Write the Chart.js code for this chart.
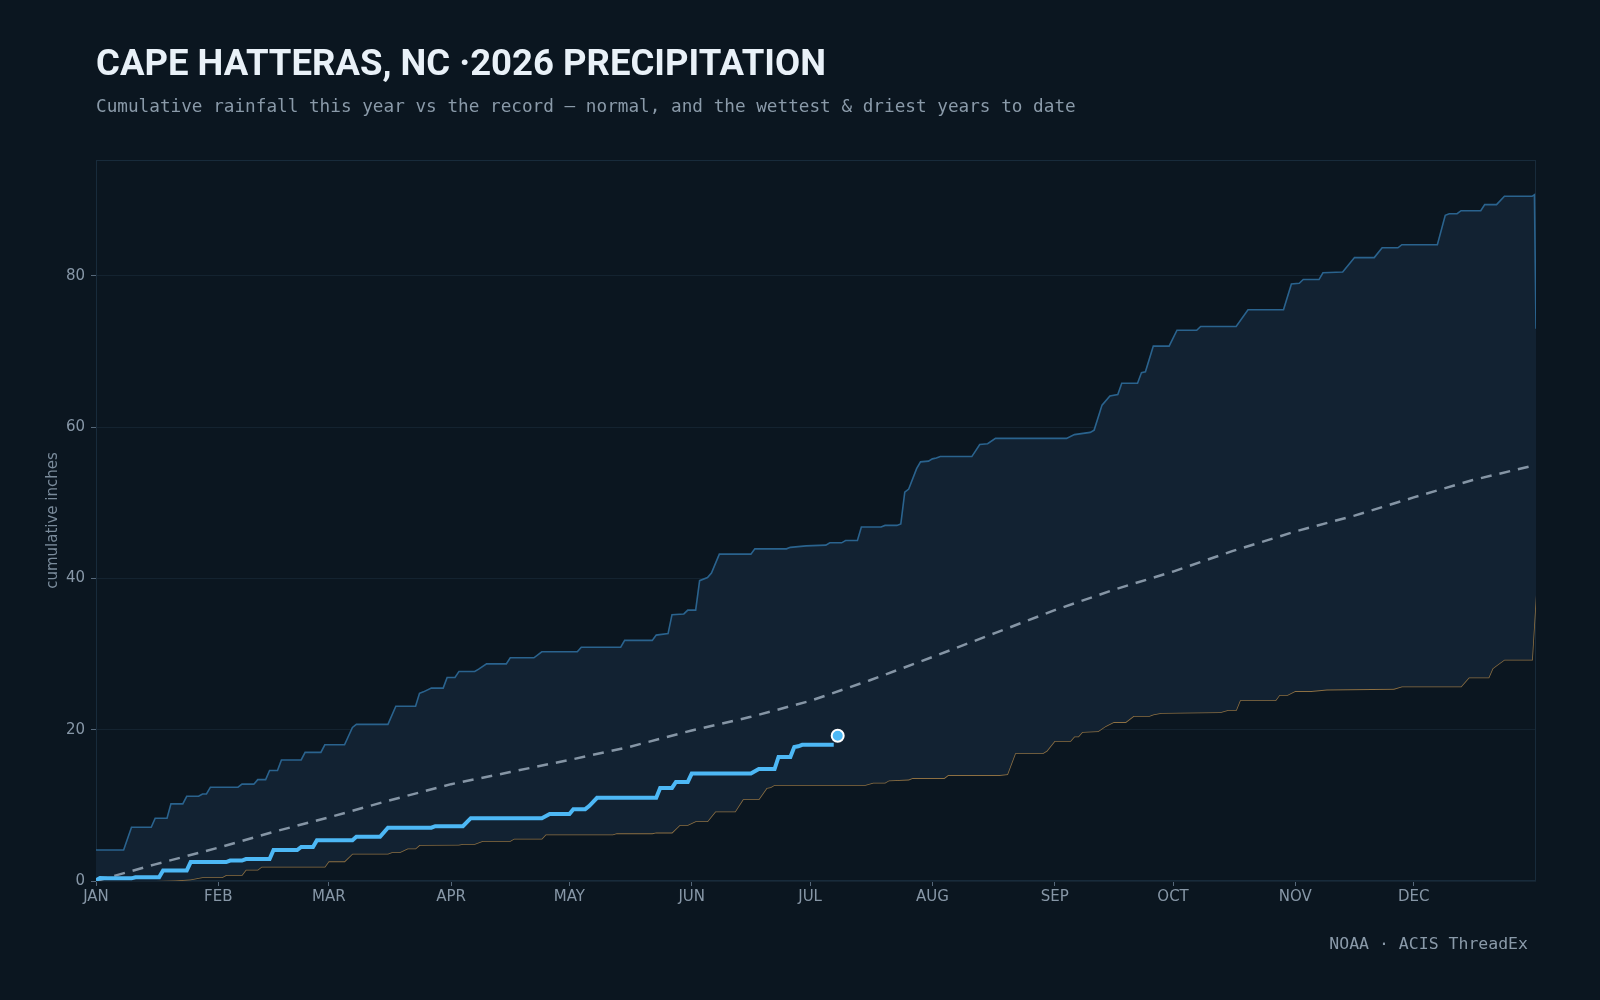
<!DOCTYPE html>
<html>
<head>
<meta charset="utf-8">
<title>Cape Hatteras 2026 precipitation</title>
<script src="https://cdn.jsdelivr.net/npm/chart.js@4.4.1/dist/chart.umd.min.js"></script>
<style>
  html, body { margin: 0; padding: 0; background: #0b1620; }
  #wrap { position: relative; width: 1600px; height: 1000px; overflow: hidden; }
  #chart { position: absolute; left: 0; top: 0; }
  .title { position: absolute; left: 96px; top: 41px; font: bold 36.5px "Roboto", sans-serif; color: #e9f1f8; line-height: 44px; white-space: nowrap; }
  .subtitle { position: absolute; left: 96px; top: 95px; font: 17.7px "DejaVu Sans Mono", monospace; color: #8a9aa9; line-height: 22px; white-space: nowrap; }
  .source { position: absolute; right: 72px; top: 934px; font: 16.5px "DejaVu Sans Mono", monospace; color: #8a9aa9; line-height: 20px; white-space: nowrap; }
</style>
</head>
<body>
<div id="wrap">
  <canvas id="chart" width="1600" height="1000"></canvas>
  <div class="title">CAPE HATTERAS, NC ·2026 PRECIPITATION</div>
  <div class="subtitle">Cumulative rainfall this year vs the record — normal, and the wettest &amp; driest years to date</div>
  <div class="source">NOAA · ACIS ThreadEx</div>
</div>
<script>
// month ticks (day of year, 2026)
var monthStarts = [0, 31, 59, 90, 120, 151, 181, 212, 243, 273, 304, 334];
var monthLabels = ['JAN', 'FEB', 'MAR', 'APR', 'MAY', 'JUN', 'JUL', 'AUG', 'SEP', 'OCT', 'NOV', 'DEC'];
var yTicks = [0, 20, 40, 60, 80];

// wettest year to date (record max), inches
var wetDays = [0, 7, 9, 14, 15, 18, 19, 22, 23, 26, 27, 28, 29, 36, 37, 40, 41, 43, 44, 46, 47, 52, 53, 57, 58, 63, 65, 66, 74, 76, 81, 82, 83, 85, 88, 89, 91, 92, 96, 97, 99, 104, 105, 111, 113, 122, 123, 133, 134, 141, 142, 145, 146, 149, 150, 152, 153, 155, 156, 158, 166, 167, 175, 176, 180, 185, 186, 189, 190, 193, 194, 199, 200, 203, 204, 205, 206, 208, 209, 211, 212, 213, 214, 222, 224, 226, 228, 246, 248, 252, 253, 255, 257, 259, 260, 264, 265, 266, 268, 272, 274, 279, 280, 289, 292, 301, 303, 305, 306, 310, 311, 316, 319, 324, 326, 330, 331, 340, 342, 343, 345, 346, 351, 352, 355, 357, 364, 364.6, 365];
var wetInches = [4.1, 4.1, 7.1, 7.1, 8.3, 8.3, 10.2, 10.2, 11.2, 11.2, 11.5, 11.5, 12.4, 12.4, 12.8, 12.8, 13.4, 13.4, 14.6, 14.6, 16.0, 16.0, 17.0, 17.0, 18.0, 18.0, 20.3, 20.7, 20.7, 23.1, 23.1, 24.8, 25.0, 25.5, 25.5, 26.9, 26.9, 27.7, 27.7, 28.0, 28.7, 28.7, 29.5, 29.5, 30.3, 30.3, 30.9, 30.9, 31.8, 31.8, 32.5, 32.7, 35.2, 35.3, 35.8, 35.8, 39.7, 40.1, 40.7, 43.2, 43.2, 43.9, 43.9, 44.1, 44.3, 44.4, 44.7, 44.7, 45.0, 45.0, 46.8, 46.8, 47.0, 47.0, 47.2, 51.4, 51.8, 54.5, 55.4, 55.5, 55.8, 55.9, 56.1, 56.1, 57.7, 57.8, 58.5, 58.5, 59.0, 59.3, 59.6, 62.9, 64.1, 64.3, 65.8, 65.8, 67.2, 67.3, 70.7, 70.7, 72.8, 72.8, 73.3, 73.3, 75.5, 75.5, 78.9, 79.0, 79.5, 79.5, 80.4, 80.5, 82.4, 82.4, 83.7, 83.7, 84.1, 84.1, 88.0, 88.2, 88.2, 88.6, 88.6, 89.4, 89.4, 90.5, 90.5, 90.7, 73.0];

// driest year to date (record min), inches
var dryDays = [0, 15, 20, 24, 27, 32, 33, 37, 38, 41, 42, 58, 59, 63, 65, 74, 75, 77, 79, 81, 82, 92, 93, 96, 98, 105, 106, 113, 114, 131, 132, 141, 142, 146, 148, 150, 152, 155, 157, 162, 164, 168, 170, 171, 172, 195, 197, 200, 201, 206, 207, 215, 216, 229, 231, 233, 240, 241, 243, 247, 248, 249, 250, 254, 256, 258, 261, 263, 267, 268, 270, 285, 287, 289, 290, 299, 300, 302, 304, 308, 312, 329, 331, 346, 348, 353, 354, 355, 357, 364, 365];
var dryInches = [0, 0, 0.05, 0.2, 0.5, 0.5, 0.8, 0.8, 1.5, 1.5, 1.9, 1.9, 2.6, 2.6, 3.6, 3.6, 3.8, 3.8, 4.3, 4.3, 4.75, 4.8, 4.9, 4.9, 5.3, 5.3, 5.6, 5.6, 6.15, 6.15, 6.3, 6.3, 6.4, 6.4, 7.4, 7.4, 7.9, 7.9, 9.2, 9.2, 10.8, 10.8, 12.3, 12.4, 12.7, 12.7, 13.0, 13.0, 13.3, 13.4, 13.6, 13.6, 14.0, 14.0, 14.1, 16.9, 16.9, 17.2, 18.5, 18.5, 19.1, 19.1, 19.7, 19.8, 20.5, 21.0, 21.0, 21.8, 21.8, 22.0, 22.2, 22.3, 22.6, 22.6, 23.9, 23.9, 24.6, 24.6, 25.1, 25.1, 25.3, 25.4, 25.7, 25.7, 26.9, 26.9, 28.1, 28.5, 29.25, 29.25, 37.8];

// normal cumulative, inches
var normalDays = [0, 15, 31, 45, 59, 74, 90, 105, 120, 135, 151, 166, 181, 196, 212, 228, 243, 258, 273, 288, 304, 319, 334, 349, 365];
var normalInches = [0, 2.2, 4.4, 6.5, 8.4, 10.6, 12.8, 14.4, 16.0, 17.7, 19.9, 21.7, 23.8, 26.5, 29.6, 32.8, 35.8, 38.5, 40.9, 43.6, 46.2, 48.3, 50.7, 53.0, 55.0];

// 2026 so far, inches
var yearDays = [0, 1, 3, 9, 10, 16, 17, 23, 24, 33, 34, 37, 38, 44, 45, 51, 52, 55, 56, 65, 66, 72, 74, 85, 86, 93, 95, 113, 115, 120, 121, 124, 125, 127, 142, 143, 146, 147, 150, 151, 166, 168, 172, 173, 176, 177, 178, 179, 187];
var yearInches = [0.1, 0.4, 0.35, 0.35, 0.5, 0.5, 1.4, 1.4, 2.5, 2.5, 2.7, 2.7, 2.9, 2.9, 4.1, 4.1, 4.5, 4.5, 5.4, 5.4, 5.85, 5.85, 7.05, 7.05, 7.25, 7.25, 8.3, 8.3, 8.85, 8.85, 9.5, 9.5, 9.9, 11.0, 11.0, 12.3, 12.3, 13.1, 13.1, 14.2, 14.2, 14.8, 14.8, 16.4, 16.4, 17.7, 17.8, 18.0, 18.0];

// latest reading marker
var latestDay = [188];
var latestInches = [19.2];

function toPoints(xs, ys) {
    return xs.map(function (x, i) { return { x: x, y: ys[i] }; });
}

// frame around the plot area
var framePlugin = {
    id: 'frame',
    beforeDatasetsDraw: function (chart) {
        var a = chart.chartArea, ctx = chart.ctx;
        ctx.save();
        ctx.strokeStyle = '#182b3b';
        ctx.lineWidth = 1;
        ctx.strokeRect(a.left + 0.5, a.top + 0.5, a.right - a.left - 1, a.bottom - a.top - 1);
        ctx.restore();
    }
};

var ctx = document.getElementById('chart').getContext('2d');
var chart = new Chart(ctx, {
    type: 'line',
    data: {
        datasets: [{
            label: 'Latest',
            data: toPoints(latestDay, latestInches),
            showLine: false,
            pointRadius: 6,
            pointBackgroundColor: '#4db8f5',
            pointBorderColor: '#ffffff',
            pointBorderWidth: 2,
            order: 0
        }, {
            label: '2026',
            data: toPoints(yearDays, yearInches),
            borderColor: '#4db8f5',
            borderWidth: 4,
            pointRadius: 0,
            fill: false,
            order: 1
        }, {
            label: 'Normal',
            data: toPoints(normalDays, normalInches),
            borderColor: '#8595a5',
            borderWidth: 2.5,
            borderDash: [11, 8],
            pointRadius: 0,
            fill: false,
            order: 2
        }, {
            label: 'Wettest',
            data: toPoints(wetDays, wetInches),
            borderColor: '#2a638e',
            borderWidth: 1.6,
            pointRadius: 0,
            backgroundColor: '#122232',
            fill: { target: 4 },
            order: 3
        }, {
            label: 'Driest',
            data: toPoints(dryDays, dryInches),
            borderColor: '#8c6f42',
            borderWidth: 1.6,
            pointRadius: 0,
            fill: false,
            order: 4
        }]
    },
    options: {
        responsive: false,
        animation: false,
        devicePixelRatio: 1,
        layout: { padding: { left: 40, top: 160, right: 64, bottom: 0 } },
        plugins: {
            legend: { display: false },
            tooltip: { enabled: false }
        },
        scales: {
            x: {
                type: 'linear',
                min: 0,
                max: 365,
                afterFit: function (s) { s.height = 119; },
                afterBuildTicks: function (s) { s.ticks = monthStarts.map(function (v) { return { value: v }; }); },
                grid: { drawOnChartArea: false, drawTicks: true, tickLength: 5, tickColor: '#56687a' },
                border: { display: false },
                ticks: {
                    autoSkip: false,
                    maxRotation: 0,
                    padding: 2,
                    color: '#8797a7',
                    font: { family: 'DejaVu Sans', size: 15 },
                    callback: function (v) { return monthLabels[monthStarts.indexOf(v)]; }
                }
            },
            y: {
                min: 0,
                max: 95.3,
                afterFit: function (s) { s.width = 56; },
                afterBuildTicks: function (s) { s.ticks = yTicks.map(function (v) { return { value: v }; }); },
                grid: { color: '#142330', lineWidth: 1, drawTicks: true, tickLength: 5, tickColor: '#56687a' },
                border: { display: false },
                ticks: {
                    padding: 6,
                    color: '#8797a7',
                    font: { family: 'DejaVu Sans', size: 15 }
                },
                title: {
                    display: true,
                    text: 'cumulative inches',
                    color: '#7a8b9b',
                    font: { family: 'DejaVu Sans', size: 15 }
                }
            }
        }
    },
    plugins: [framePlugin]
});
</script>
</body>
</html>
